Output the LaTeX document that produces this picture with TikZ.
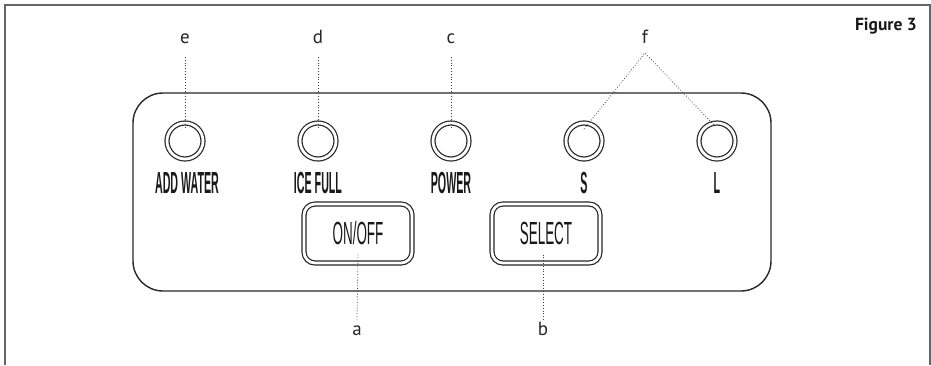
\documentclass[tikz,border=0pt]{standalone}
\usepackage{fontspec}
\setmainfont{PT Sans}
\newfontfamily\keyfont{Liberation Sans}[FakeStretch=0.35]
\newfontfamily\btnfont{Liberation Sans}[FakeStretch=0.42]
\usepackage{tikz}

\tikzset{
  lamp/.style={circle, draw=black!85, line width=1.2pt, double, double distance=2.8pt,
    minimum size=36pt, inner sep=0pt},
  keylabel/.style={font=\keyfont\bfseries\fontsize{30.5}{30}\selectfont, text=black!90, inner sep=0pt},
  button/.style={rectangle, rounded corners=11pt, draw=black!85, line width=1.2pt, double,
    double distance=2.8pt, minimum width=108pt, minimum height=59pt,
    font=\btnfont\fontsize{32}{32}\selectfont, text=black!90},
  callout/.style={font=\fontsize{19}{19}\selectfont, text=black!85, inner sep=0pt, anchor=base},
  pointer/.style={black!75, line width=0.8pt, dotted},
}

\begin{document}
\begin{tikzpicture}[x=1pt, y=-1pt]
    \useasboundingbox (0,0) rectangle (931,365);
    % frame and panel
    \draw[black!60, line width=1.5pt] (5,365) -- (5,5) -- (930,5) -- (930,365);
    \draw[black!85, line width=1.4pt, rounded corners=30pt] (133,93) rectangle (771,291);

    % indicator lamps
    \node[lamp] (addwater) at (185,141) {};
    \node[lamp] (icefull) at (318,141) {};
    \node[lamp] (power) at (451,141) {};
    \node[lamp] (small) at (584,141) {};
    \node[lamp] (large) at (717,141) {};

    \node[keylabel] (addwaterlbl) at (187,183) {ADD WATER};
    \node[keylabel] (icefulllbl) at (318,183) {ICE FULL};
    \node[keylabel] (powerlbl) at (451,183) {POWER};
    \node[keylabel] (smalllbl) at (584,183) {S};
    \node[keylabel] (largelbl) at (717,183) {L};

    % push buttons
    \node[button] (onoff) at (358,233.5) {ON/OFF};
    \node[button] (select) at (546,233.5) {SELECT};

    % callout letters
    \node[callout] (e) at (185,43) {e};
    \node[callout] (d) at (318,43) {d};
    \node[callout] (c) at (451,43) {c};
    \node[callout] (f) at (645,43) {f};
    \node[callout] (a) at (357,335) {a};
    \node[callout] (b) at (543,335) {b};
    \node[font=\bfseries\fontsize{17.5}{17.5}\selectfont, text=black!90, inner sep=0pt, anchor=base east]
      (title) at (917,30) {Figure 3};

    \draw[pointer] ([yshift=-14pt]e.base) -- ([yshift=13pt]addwater.center);
    \draw[pointer] ([yshift=-14pt]d.base) -- ([yshift=13pt]icefull.center);
    \draw[pointer] ([yshift=-14pt]c.base) -- ([yshift=13pt]power.center);
    \draw[pointer] ([yshift=12pt]small.center) -- ([yshift=-10pt]f.base) -- ([xshift=-2pt,yshift=15pt]large.center);
    \draw[pointer] ([yshift=-21pt]onoff.center) -- ([yshift=15pt]a.base);
    \draw[pointer] ([xshift=-3pt,yshift=-21pt]select.center) -- ([yshift=15pt]b.base);
\end{tikzpicture}
\end{document}
